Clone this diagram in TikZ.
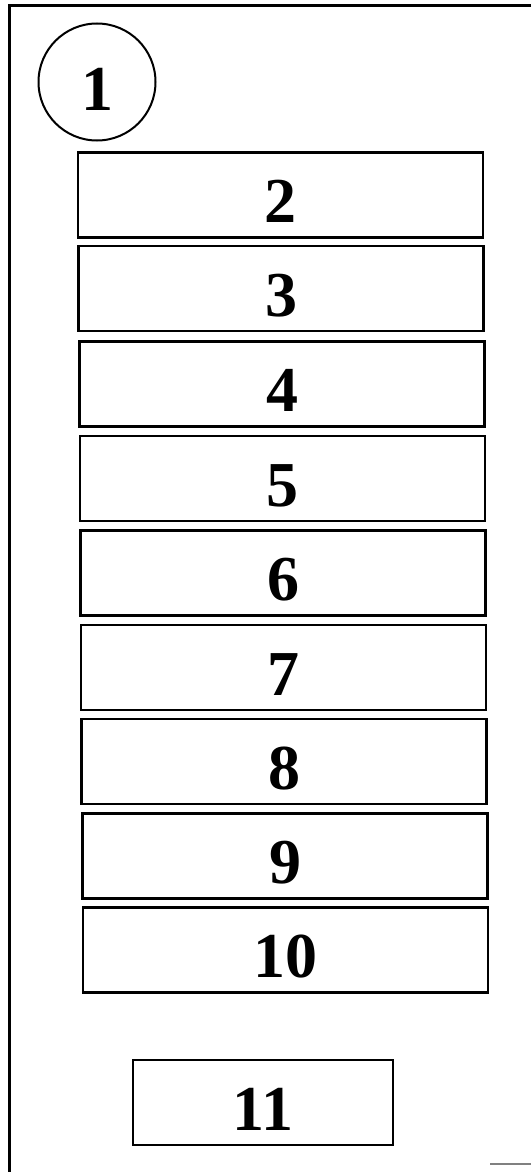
\documentclass[tikz,border=0pt]{standalone}
\usepackage{fontspec}
\setmainfont{Liberation Serif}
\usepackage{tikz}
\usetikzlibrary{positioning}

\begin{document}
\begin{tikzpicture}[
    x=1pt, y=-1pt,
    slab/.style={draw, line width=2.4pt, inner sep=0pt,
                 minimum width=405pt, minimum height=85pt,
                 text height=55pt, text depth=0pt,
                 font=\fontsize{64}{64}\selectfont\bfseries},
    tag/.style={draw, circle, line width=2pt, inner sep=0pt,
                minimum size=117pt, text height=56pt, text depth=0pt,
                font=\fontsize{64}{64}\selectfont\bfseries},
    frame/.style={line width=3pt}
]
\useasboundingbox (0,0) rectangle (531,1172);
% outer frame (cut off at right and bottom)
\draw[frame] (531,6) -- (9,6) -- (9,1172);
\draw[gray, line width=1.5pt] (490,1164) -- (531,1164);

\node[tag] (n1) at (97,82) {1};

\node[slab] (n2)  at (280.5,195)   {2};
\node[slab] (n3)  at (281,288.5)   {3};
\node[slab] (n4)  at (282,384)     {4};
\node[slab] (n5)  at (282.5,478.5) {5};
\node[slab] (n6)  at (283,573)     {6};
\node[slab] (n7)  at (283.5,667.5) {7};
\node[slab] (n8)  at (284,761.5)   {8};
\node[slab] (n9)  at (285,856)     {9};
\node[slab] (n10) at (285.5,950)   {10};

\node[slab, minimum width=260pt] (n11) at (263,1102.5) {11};
\end{tikzpicture}
\end{document}
